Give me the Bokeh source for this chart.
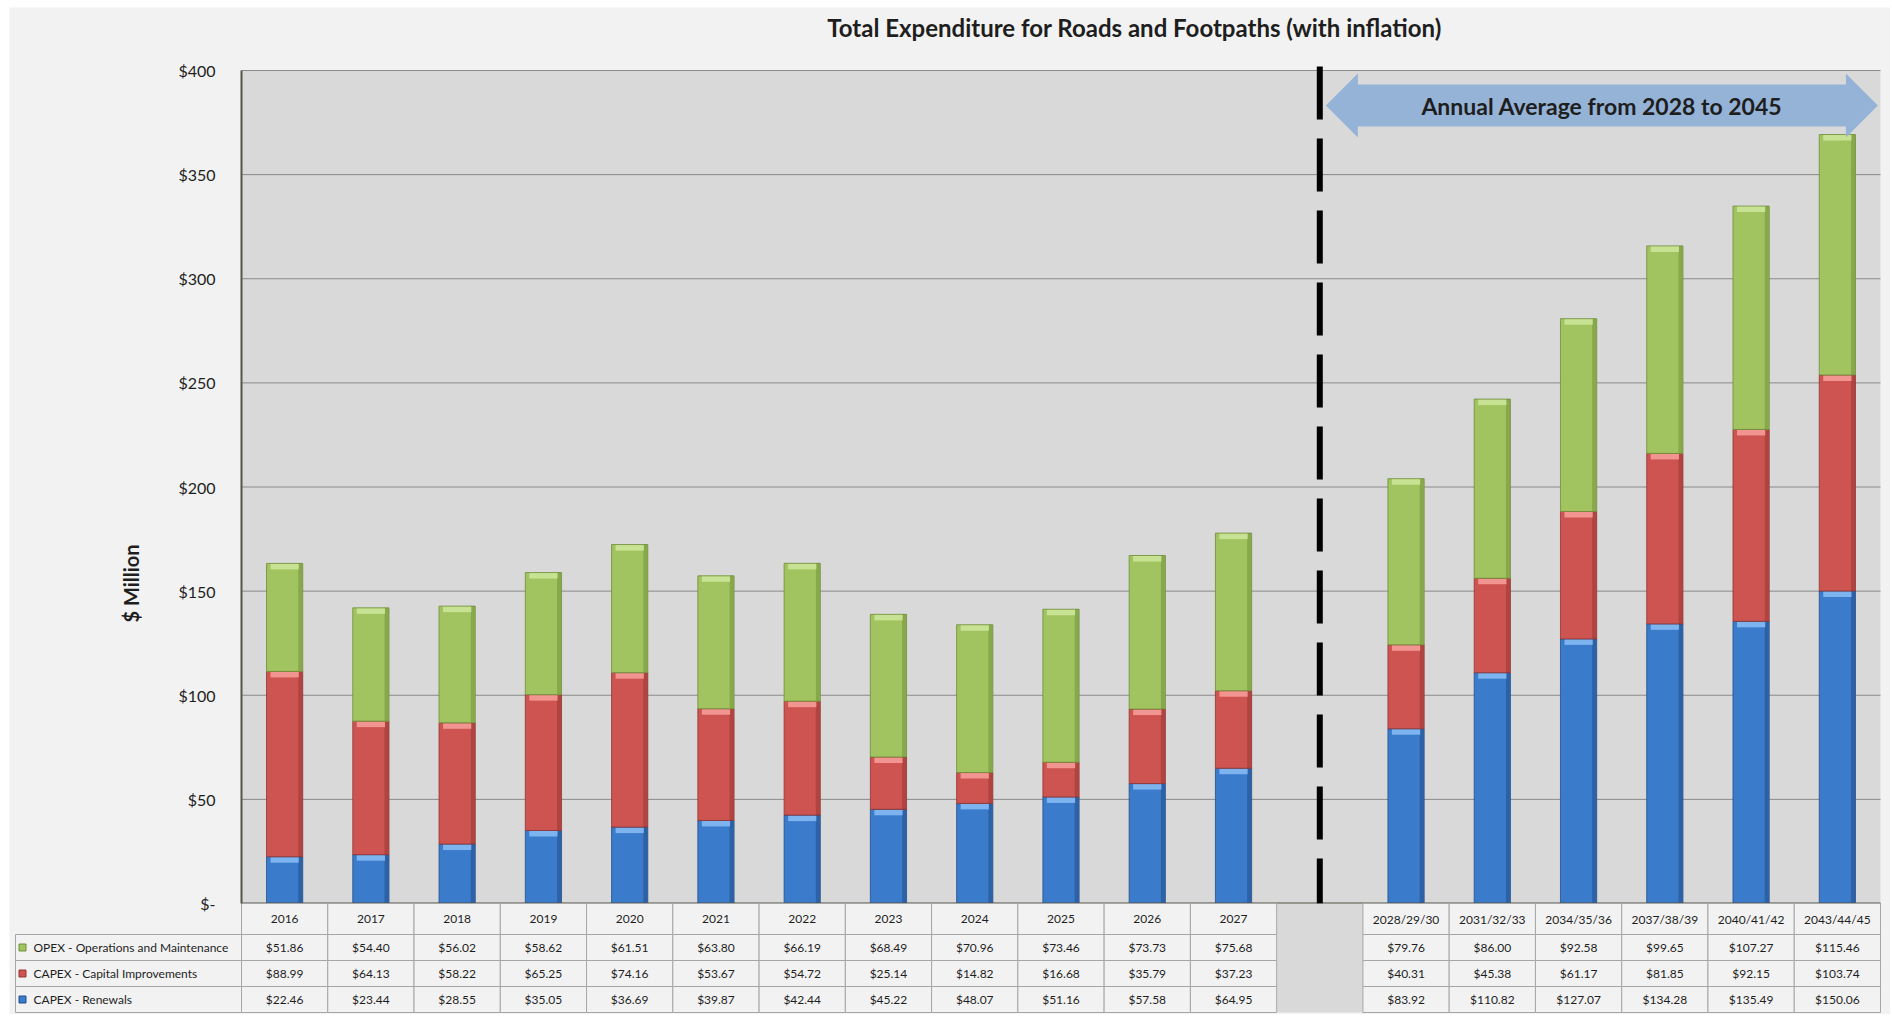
import numpy as np
from bokeh.plotting import figure
from bokeh.models import Range1d, CustomJSTickFormatter, ColumnDataSource
from bokeh.core.properties import value
from bokeh.embed import file_html
from bokeh.resources import INLINE

# ---------------- data ----------------
periods = ["2016", "2017", "2018", "2019", "2020", "2021", "2022", "2023",
           "2024", "2025", "2026", "2027",
           "2028/29/30", "2031/32/33", "2034/35/36", "2037/38/39",
           "2040/41/42", "2043/44/45"]
opex = [51.86, 54.40, 56.02, 58.62, 61.51, 63.80, 66.19, 68.49, 70.96, 73.46,
        73.73, 75.68, 79.76, 86.00, 92.58, 99.65, 107.27, 115.46]
capex_improvements = [88.99, 64.13, 58.22, 65.25, 74.16, 53.67, 54.72, 25.14,
                      14.82, 16.68, 35.79, 37.23, 40.31, 45.38, 61.17, 81.85,
                      92.15, 103.74]
capex_renewals = [22.46, 23.44, 28.55, 35.05, 36.69, 39.87, 42.44, 45.22,
                  48.07, 51.16, 57.58, 64.95, 83.92, 110.82, 127.07, 134.28,
                  135.49, 150.06]
series_labels = ["OPEX - Operations and Maintenance",
                 "CAPEX - Capital Improvements",
                 "CAPEX - Renewals"]
y_ticks = [0, 50, 100, 150, 200, 250, 300, 350, 400]
title_text = "Total Expenditure for Roads and Footpaths (with inflation)"
y_label_text = "$ Million"
arrow_text = "Annual Average from 2028 to 2045"
n_annual = 12  # yearly columns before the averaged periods

# ---------------- layout / style constants (pixels) ----------------
FONT = "Lato"
W, H = 1890, 1014
FRAME_L, FRAME_T = 9, 7              # outer grey panel starts here
PLOT_L, PLOT_R = 241, 1880           # chart area
PLOT_T, PLOT_B = 70, 903
TABLE_L = 15
HEADER_PX, ROW_PX = 31, 26
N_SLOTS = len(periods) + 1
SLOT_PX = (PLOT_R - PLOT_L) / N_SLOTS
Y_MAX = y_ticks[-1]
PPU = (PLOT_B - PLOT_T) / Y_MAX


def xd(px):   # page x pixel -> data x
    return -0.5 + (px - PLOT_L) / SLOT_PX


def yd(py):   # page y pixel -> data y
    return (PLOT_B - py) / PPU


BAR_W = 0.42
TEXT_C = "#1e1e1e"
GRID_C = "#8a8a8a"
CELL_LINE = "#a6a6a6"
AXIS_C = "#55554a"
PANEL_BG = "#f2f2f2"
PLOT_BG = "#d9d9d9"

#          main       top bevel   outline    right shade
GREEN = ("#a2c460", "#c8e293", "#6f8c3a", "#87a84b")
RED = ("#cd5451", "#f29590", "#913431", "#b04441")
BLUE = ("#3a7bcb", "#7db3ef", "#234f8a", "#2d62a7")

xs = [i if i < n_annual else i + 1 for i in range(len(periods))]
gap_x = n_annual
x_lo, x_hi = -0.5, N_SLOTS - 0.5

r = np.array(capex_renewals)
c = np.array(capex_improvements)
o = np.array(opex)
HL = 6 / PPU
xarr = np.array(xs, dtype=float)
src = ColumnDataSource(dict(
    x=xarr, xs_=xarr + BAR_W / 2 - 2.5 / SLOT_PX,
    r0=np.zeros(len(r)), r1=r, r1h=r - HL,
    c0=r, c1=r + c, c1h=r + c - HL,
    o0=r + c, o1=r + c + o, o1h=r + c + o - HL,
))

p = figure(width=W, height=H,
           x_range=Range1d(xd(FRAME_L), xd(W)),
           y_range=Range1d(yd(H), yd(FRAME_T)),
           x_axis_location=None, y_axis_location="left", title=None,
           output_backend="svg", toolbar_location=None,
           min_border_left=FRAME_L, min_border_right=0,
           min_border_top=FRAME_T, min_border_bottom=0,
           background_fill_color=PANEL_BG, border_fill_color="white",
           outline_line_color=None)
p.grid.visible = False

# chart background and gridlines
p.quad(left=[x_lo], right=[x_hi], bottom=[0], top=[Y_MAX],
       fill_color=PLOT_BG, line_color=None)
p.segment(x0=[x_lo] * len(y_ticks), x1=[x_hi] * len(y_ticks),
          y0=y_ticks, y1=y_ticks, line_color=GRID_C, line_width=1)

# y axis (library axis pinned at the chart's left edge)
yax = p.yaxis[0]
yax.fixed_location = x_lo
yax.ticker = y_ticks
yax.bounds = (0, Y_MAX)
yax.formatter = CustomJSTickFormatter(
    code="return tick == 0 ? '$-' : '$' + tick.toFixed(0);")
yax.major_tick_line_color = None
yax.minor_tick_line_color = None
yax.axis_line_color = AXIS_C
yax.axis_line_width = 2
yax.major_label_text_font = FONT
yax.major_label_text_font_size = "16px"
yax.major_label_text_color = TEXT_C
yax.major_label_standoff = 20

# stacked bars with a bevel look
for b0, b1, b1h, col in [("r0", "r1", "r1h", BLUE), ("c0", "c1", "c1h", RED),
                         ("o0", "o1", "o1h", GREEN)]:
    p.vbar(x="x", width=BAR_W, bottom=b0, top=b1, source=src,
           fill_color=col[0], line_color=None)
    p.vbar(x="xs_", width=4 / SLOT_PX, bottom=b0, top=b1, source=src,
           fill_color=col[3], line_color=None)
    p.vbar(x="x", width=BAR_W - 8 / SLOT_PX, bottom=b1h, top=b1, source=src,
           fill_color=col[1], line_color=None)
    p.vbar(x="x", width=BAR_W, bottom=b0, top=b1, source=src,
           fill_color=None, line_color=col[2], line_width=1, line_alpha=0.8)

# bottom axis line
p.segment(x0=[x_lo], x1=[x_hi], y0=[0], y1=[0], line_color=AXIS_C,
          line_width=2)

# dashed divider
p.line(x=[gap_x, gap_x], y=[yd(PLOT_T - 4), yd(PLOT_B + 3)],
       line_color="black", line_width=6, line_dash="53 19")

# double-headed arrow
ax0 = gap_x + 0.07
ax1 = x_hi - 0.03
ay = yd(PLOT_T + 35)
sh, hh, hl = 21 / PPU, 32 / PPU, 32 / SLOT_PX
p.patch([ax0, ax0 + hl, ax0 + hl, ax1 - hl, ax1 - hl, ax1, ax1 - hl, ax1 - hl,
         ax0 + hl, ax0 + hl],
        [ay, ay + hh, ay + sh, ay + sh, ay + hh, ay, ay - hh, ay - sh,
         ay - sh, ay - hh],
        fill_color="#95b3d7", line_color=None)
p.text(x=[(ax0 + ax1) / 2], y=[ay], text=[arrow_text], text_align="center",
       text_baseline="middle", text_font=value(FONT), text_font_style="bold",
       text_font_size="23px", text_color=TEXT_C)

# title and y-axis label
p.text(x=[xd(1134)], y=[yd(27)], text=[title_text], text_align="center",
       text_baseline="middle", text_font=value(FONT), text_font_style="bold",
       text_font_size="24px", text_color=TEXT_C)
p.text(x=[xd(130)], y=[yd(583)], text=[y_label_text], angle=np.pi / 2,
       text_align="center", text_baseline="middle", text_font=value(FONT),
       text_font_style="bold", text_font_size="20px", text_color=TEXT_C)

# ---------------- data table below the chart ----------------
hdr_b = yd(PLOT_B + HEADER_PX)
row_tops = [yd(PLOT_B + HEADER_PX + k * ROW_PX) for k in range(3)]
row_bots = [yd(PLOT_B + HEADER_PX + (k + 1) * ROW_PX) for k in range(3)]
table_bottom = row_bots[-1]

# gap column under the divider stays grey
p.quad(left=[gap_x - 0.5], right=[gap_x + 0.5], bottom=[table_bottom],
       top=[0], fill_color=PLOT_BG, line_color=None)

p.quad(left=xarr - 0.5, right=xarr + 0.5, top=0, bottom=hdr_b,
       fill_color=PANEL_BG, line_color=CELL_LINE, line_width=1)
p.text(x=xarr, y=[(0 + hdr_b) / 2] * len(xs), text=periods,
       text_align="center", text_baseline="middle",
       text_font=value(FONT), text_font_size="12px", text_color=TEXT_C)

series_rows = [opex, capex_improvements, capex_renewals]
L, R, B, T, TX, TY, TT = [], [], [], [], [], [], []
for k, vals in enumerate(series_rows):
    for xi, v in zip(xs, vals):
        L.append(xi - 0.5); R.append(xi + 0.5)
        B.append(row_bots[k]); T.append(row_tops[k])
        TX.append(xi); TY.append((row_tops[k] + row_bots[k]) / 2)
        TT.append(f"${v:,.2f}")
leg_left = xd(TABLE_L)
for k in range(3):
    L.append(leg_left); R.append(x_lo); B.append(row_bots[k]); T.append(row_tops[k])
p.quad(left=L, right=R, bottom=B, top=T, fill_color=PANEL_BG,
       line_color=CELL_LINE, line_width=1)
p.text(x=TX, y=TY, text=TT, text_align="center", text_baseline="middle",
       text_font=value(FONT), text_font_size="12px", text_color=TEXT_C)

row_mid = [(row_tops[k] + row_bots[k]) / 2 for k in range(3)]
p.scatter(x=[xd(TABLE_L + 7)] * 3, y=row_mid, marker="square", size=7,
          fill_color=[GREEN[0], RED[0], BLUE[0]],
          line_color=[GREEN[2], RED[2], BLUE[2]])
p.text(x=[xd(TABLE_L + 18)] * 3, y=row_mid, text=series_labels,
       text_align="left", text_baseline="middle", text_font=value(FONT),
       text_font_size="12px", text_color=TEXT_C)

open("out.html", "w").write(file_html(p, INLINE))
